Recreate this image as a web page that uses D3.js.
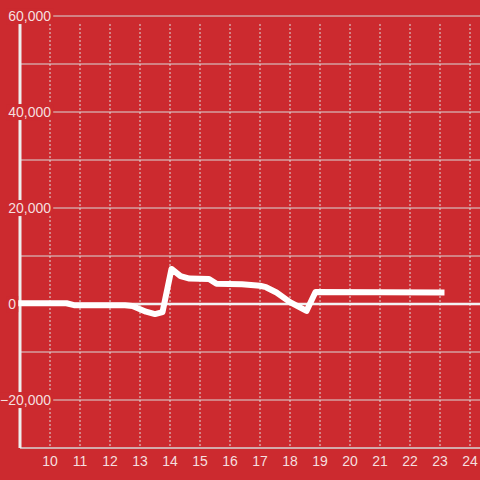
<!DOCTYPE html>
<html>
<head>
<meta charset="utf-8">
<script src="https://cdn.jsdelivr.net/npm/d3@7"></script>
<style>
  body { margin: 0; background: #cc2a2f; }
  svg { display: block; font-family: "Liberation Sans", Arial, sans-serif; }
</style>
</head>
<body>
<div id="chart"></div>
<script>
// values
const hours = [8.9, 10.55, 10.8, 12.5, 12.75, 13.2, 13.5, 13.75, 14.05, 14.35, 14.65, 15.3, 15.55, 16.4, 17.0, 17.2, 17.55, 18.0, 18.55, 18.85, 23.15];
const values = [150, 150, -250, -250, -400, -1600, -2100, -1700, 7300, 5800, 5300, 5200, 4200, 4100, 3800, 3500, 2400, 400, -1450, 2500, 2400];
const xTicks = [10, 11, 12, 13, 14, 15, 16, 17, 18, 19, 20, 21, 22, 23, 24];
const yGrid = [-20000, -10000, 10000, 20000, 30000, 40000, 50000, 60000];
const yLabels = [-20000, 0, 20000, 40000, 60000];

const width = 480, height = 480;
const bg = "#cc2a2f";
const textColor = "#f5dfdf";

const svg = d3.select("#chart").append("svg")
  .attr("width", width)
  .attr("height", height);

svg.append("rect").attr("width", width).attr("height", height).attr("fill", bg);

const x = d3.scaleLinear().domain([9, 25]).range([20, 500]);
const y = d3.scaleLinear().domain([-30000, 60000]).range([448, 16]);

const plotLeft = x(9), plotRight = width;
const plotTop = y(60000) + 8, plotBottom = y(-30000);

// horizontal grid
svg.append("g").selectAll("line")
  .data(yGrid)
  .join("line")
  .attr("x1", plotLeft).attr("x2", plotRight)
  .attr("y1", d => y(d)).attr("y2", d => y(d))
  .attr("stroke", "#d9d9d9")
  .attr("stroke-width", 1);

// vertical dashed grid
svg.append("g").selectAll("line")
  .data(xTicks)
  .join("line")
  .attr("x1", d => x(d)).attr("x2", d => x(d))
  .attr("y1", plotTop).attr("y2", plotBottom - 2)
  .attr("stroke", "#dddddd")
  .attr("stroke-width", 1)
  .attr("stroke-dasharray", "2,2");

// bottom axis line
svg.append("line")
  .attr("x1", plotLeft).attr("x2", plotRight)
  .attr("y1", plotBottom).attr("y2", plotBottom)
  .attr("stroke", "#d6d6d6")
  .attr("stroke-width", 1.5);

// zero line
svg.append("line")
  .attr("x1", plotLeft).attr("x2", plotRight)
  .attr("y1", y(0)).attr("y2", y(0))
  .attr("stroke", "#f2f2f2")
  .attr("stroke-width", 2.5);

// y axis line
svg.append("line")
  .attr("x1", plotLeft).attr("x2", plotLeft)
  .attr("y1", plotTop).attr("y2", plotBottom)
  .attr("stroke", "#eeeeee")
  .attr("stroke-width", 3);

// data line
const line = d3.line()
  .x((d, i) => x(hours[i]))
  .y(d => y(d));

svg.append("path")
  .datum(values)
  .attr("d", line)
  .attr("fill", "none")
  .attr("stroke", "#ffffff")
  .attr("stroke-width", 6)
  .attr("stroke-linejoin", "round");

// y labels with background boxes (the zero label sits left of the axis)
const fmt = d3.format(",");
const yl = svg.append("g").selectAll("g")
  .data(yLabels)
  .join("g");
yl.append("rect").attr("fill", bg);
yl.append("text")
  .attr("x", d => d === 0 ? plotLeft - 4 : 51)
  .attr("y", d => y(d))
  .attr("dy", "0.36em")
  .attr("text-anchor", "end")
  .attr("font-size", 14)
  .attr("fill", textColor)
  .text(d => fmt(d));
yl.each(function () {
  const g = d3.select(this);
  const b = g.select("text").node().getBBox();
  g.select("rect")
    .attr("x", b.x - 2).attr("y", b.y)
    .attr("width", b.width + 4).attr("height", b.height);
});

// x labels
svg.append("g").selectAll("text")
  .data(xTicks)
  .join("text")
  .attr("x", d => x(d))
  .attr("y", 466)
  .attr("text-anchor", "middle")
  .attr("font-size", 14)
  .attr("fill", textColor)
  .text(d => d);
</script>
</body>
</html>
